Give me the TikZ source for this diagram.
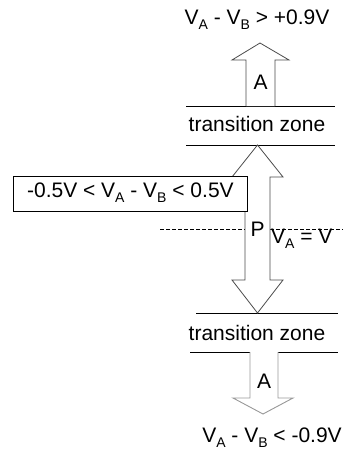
\documentclass[tikz,border=0pt]{standalone}
\usepackage{fontspec}
\setmainfont{Liberation Sans}
\usepackage{tikz}
\usetikzlibrary{positioning}
\newcommand{\vsub}[1]{V\raisebox{-5pt}{\fontsize{14}{14}\selectfont #1}}

\begin{document}
\begin{tikzpicture}[
      x=1pt, y=-1pt,
      lab/.style={font=\fontsize{21}{24}\selectfont, inner sep=1pt},
      zoneline/.style={draw=black, line width=0.8pt},
      blockarrow/.style={draw=black!70, line width=0.8pt, fill=white, line join=miter},
      lightarrow/.style={draw=black!40, line width=0.9pt, fill=white, line join=miter},
      rangebox/.style={draw=black, line width=0.8pt, fill=white, inner sep=3pt, minimum height=35pt},
      midline/.style={draw=black, line width=0.6pt, dash pattern=on 4pt off 2pt}
    ]
      \useasboundingbox (0,0) rectangle (343,452);

      % Zone boundaries
      \draw[zoneline] (186,106) -- (335,106);
      \draw[zoneline] (186,145) -- (335,145);
      \draw[zoneline] (196,313) -- (338,313);
      \draw[zoneline] (190,352) -- (338,352);

      % Midline
      \draw[midline] (160,229) -- (245,229);
      \draw[midline] (270,229) -- (343,229);

      % Block arrows
      \draw[blockarrow]
        (246,106) -- (246,60) -- (232,60) -- (260,43) -- (289,60) -- (275,60) -- (275,106);
      \draw[blockarrow]
        (257.5,145) -- (283,177) -- (270,177) -- (270,280) -- (283,280) -- (257.5,313)
        -- (232,280) -- (245,280) -- (245,177) -- (232,177) -- cycle;
      \draw[lightarrow]
        (250,352) -- (250,398) -- (233,398) -- (263,414) -- (293,398) -- (278,398) -- (278,352);

      % Labels
      \node[lab] (upper) at (257,20) {\vsub{A} - \vsub{B} > +0.9V};
      \node[lab] (aup) at (260.5,82) {A};
      \node[lab] (zonetop) at (257,124) {transition zone};
      \node[rangebox, anchor=north west, minimum width=234pt] (range) at (13,176) {};
      \node[lab] (rangetext) at ([yshift=1pt]range.center) {-0.5V < \vsub{A} - \vsub{B} < 0.5V};
      \node[lab] (pmode) at (257.5,229) {P};
      \node[lab, anchor=base west] (equal) at (270,243) {\vsub{A} = V};
      \node[lab] (zonebot) at (257,333) {transition zone};
      \node[lab] (adown) at (264,381) {A};
      \node[lab] (lower) at (272,438) {\vsub{A} - \vsub{B} < -0.9V};
    \end{tikzpicture}
\end{document}
